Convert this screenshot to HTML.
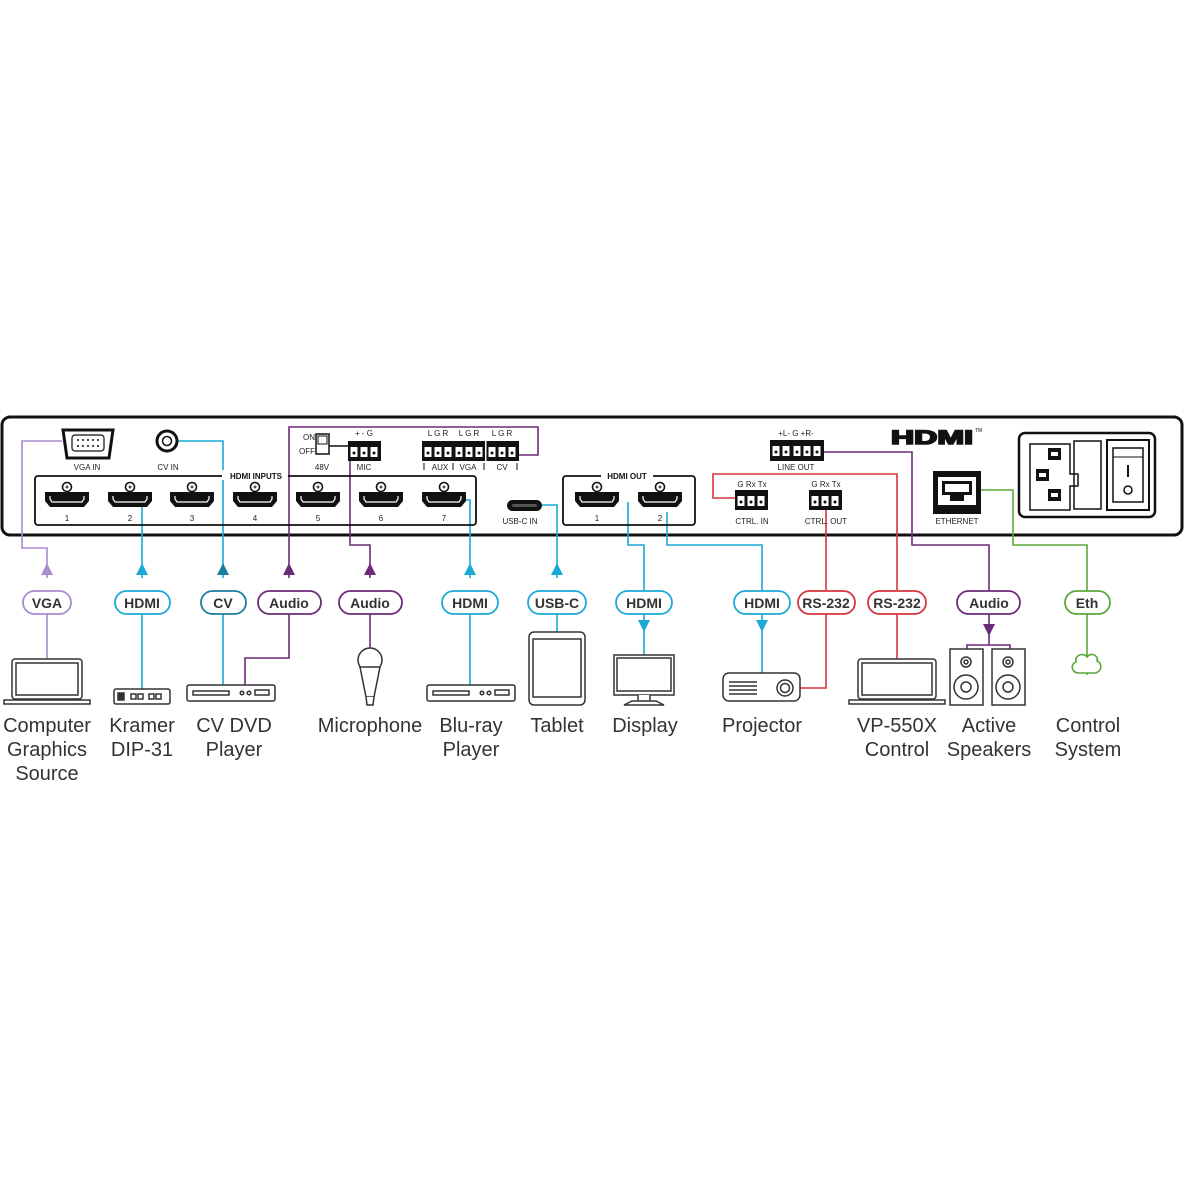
<!DOCTYPE html>
<html><head><meta charset="utf-8"><style>
html,body{margin:0;padding:0;background:#fff;width:1200px;height:1200px;overflow:hidden}
svg{display:block}
.s{font-family:"Liberation Sans",sans-serif;font-size:8px;fill:#222;text-anchor:middle}
.sb{font-family:"Liberation Sans",sans-serif;font-size:8px;font-weight:bold;fill:#111;text-anchor:middle}
.pl{font-family:"Liberation Sans",sans-serif;font-size:14px;font-weight:bold;fill:#333;text-anchor:middle}
.lb{font-family:"Liberation Sans",sans-serif;font-size:20px;fill:#333;text-anchor:middle}
</style></head><body>
<svg width="1200" height="1200" viewBox="0 0 1200 1200" xmlns="http://www.w3.org/2000/svg">
<defs>
<g id="hp">
 <circle cx="0" cy="-12" r="4.5" fill="#fff" stroke="#111" stroke-width="1.6"/>
 <path d="M-1.5,-12h3M0,-13.5v3" stroke="#111" stroke-width="1"/>
 <path d="M-22,-7 h44 v9 l-5,6 h-34 l-5,-6z" fill="#111"/>
 <path d="M-17,-3 v3 l2,3 h30 l2,-3 v-3" fill="none" stroke="#fff" stroke-width="1.2"/>
</g>
<g id="pin"><rect x="-3.5" y="-5" width="7" height="10" fill="#fff"/><circle cx="0" cy="1" r="1.5" fill="#111"/></g>
</defs>
<rect width="1200" height="1200" fill="#fff"/>
<rect x="2" y="417" width="1180" height="118" rx="8" fill="#fff" stroke="#111" stroke-width="3"/>

<g fill="none" stroke-width="1.6">
 <path d="M62,441 H22 V548 H47 V578" stroke="#a98bd0"/>
 <path d="M47,614 V660" stroke="#a98bd0"/>
 <path d="M142,505 V578 M142,614 V690" stroke="#1ba9d6"/>
 <path d="M177,441 H223 V578 M223,614 V690" stroke="#1ba9d6"/>
 <path d="M289,578 V427 H538 V455 H518" stroke="#6e2a7a"/>
 <path d="M289,614 V658 H245 V686" stroke="#6e2a7a"/>
 <path d="M350,460 V545 H370 V578 M370,614 V648" stroke="#6e2a7a"/>
 <path d="M465,500 H470 V578 M470,614 V686" stroke="#1ba9d6"/>
 <path d="M542,505 H557 V578 M557,614 V632" stroke="#1ba9d6"/>
 <path d="M627,503 H628 V545 H644 V590 M644,614 V655" stroke="#1ba9d6"/>
 <path d="M667,512 V545 H762 V590 M762,614 V673" stroke="#1ba9d6"/>
 <path d="M735,498 H713 V474 H897 V590 M897,614 V660" stroke="#d8343f"/>
 <path d="M826,507 V590 M826,614 V688 H800" stroke="#d8343f"/>
 <path d="M823,452 H912 V545 H989 V590 M989,614 V645 M967,650 V645 H1010 V650" stroke="#6e2a7a"/>
 <path d="M981,490 H1013 V545 H1087 V590 M1087,614 V675" stroke="#5aa83c"/>
</g>
<path d="M47,563 l-6,12 h12z" fill="#a98bd0"/>
<path d="M142,563 l-6,12 h12z" fill="#1ba9d6"/>
<path d="M223,563 l-6,12 h12z" fill="#1a7fa0"/>
<path d="M289,563 l-6,12 h12z" fill="#6e2a7a"/>
<path d="M370,563 l-6,12 h12z" fill="#6e2a7a"/>
<path d="M470,563 l-6,12 h12z" fill="#1ba9d6"/>
<path d="M557,563 l-6,12 h12z" fill="#1ba9d6"/>
<path d="M644,632 l-6,-12 h12z" fill="#1ba9d6"/>
<path d="M762,632 l-6,-12 h12z" fill="#1ba9d6"/>
<path d="M989,636 l-6,-12 h12z" fill="#6e2a7a"/>

<g fill="#fff" stroke-width="1.8">
 <rect x="23" y="591" width="48" height="23" rx="11.5" stroke="#a98bd0"/>
 <rect x="115" y="591" width="55" height="23" rx="11.5" stroke="#1ba9d6"/>
 <rect x="201" y="591" width="45" height="23" rx="11.5" stroke="#1a7fa0"/>
 <rect x="258" y="591" width="63" height="23" rx="11.5" stroke="#6e2a7a"/>
 <rect x="339" y="591" width="63" height="23" rx="11.5" stroke="#6e2a7a"/>
 <rect x="442" y="591" width="56" height="23" rx="11.5" stroke="#1ba9d6"/>
 <rect x="528" y="591" width="58" height="23" rx="11.5" stroke="#1ba9d6"/>
 <rect x="616" y="591" width="56" height="23" rx="11.5" stroke="#1ba9d6"/>
 <rect x="734" y="591" width="56" height="23" rx="11.5" stroke="#1ba9d6"/>
 <rect x="798" y="591" width="57" height="23" rx="11.5" stroke="#d8343f"/>
 <rect x="868" y="591" width="58" height="23" rx="11.5" stroke="#d8343f"/>
 <rect x="957" y="591" width="63" height="23" rx="11.5" stroke="#6e2a7a"/>
 <rect x="1065" y="591" width="45" height="23" rx="11.5" stroke="#5aa83c"/>
</g>
<text class="pl" x="47" y="608">VGA</text>
<text class="pl" x="142" y="608">HDMI</text>
<text class="pl" x="223" y="608">CV</text>
<text class="pl" x="289" y="608">Audio</text>
<text class="pl" x="370" y="608">Audio</text>
<text class="pl" x="470" y="608">HDMI</text>
<text class="pl" x="557" y="608">USB-C</text>
<text class="pl" x="644" y="608">HDMI</text>
<text class="pl" x="762" y="608">HDMI</text>
<text class="pl" x="826" y="608">RS-232</text>
<text class="pl" x="897" y="608">RS-232</text>
<text class="pl" x="989" y="608">Audio</text>
<text class="pl" x="1087" y="608">Eth</text>

<path d="M63,430 h50 l-4,28 h-42z" fill="#fff" stroke="#111" stroke-width="3"/>
<rect x="72" y="435" width="32" height="16" rx="3" fill="#fff" stroke="#111" stroke-width="1.2"/>
<g fill="#111"><circle cx="78" cy="440" r="1"/><circle cx="83" cy="440" r="1"/><circle cx="88" cy="440" r="1"/><circle cx="93" cy="440" r="1"/><circle cx="98" cy="440" r="1"/><circle cx="78" cy="446" r="1"/><circle cx="83" cy="446" r="1"/><circle cx="88" cy="446" r="1"/><circle cx="93" cy="446" r="1"/><circle cx="98" cy="446" r="1"/></g>
<text class="s" x="87" y="470">VGA IN</text>
<circle cx="167" cy="441" r="10" fill="#fff" stroke="#111" stroke-width="3"/><circle cx="167" cy="441" r="4.5" fill="#fff" stroke="#111" stroke-width="1.5"/>
<text class="s" x="168" y="470">CV IN</text>

<rect x="35" y="476" width="441" height="49" rx="3" fill="none" stroke="#111" stroke-width="1.8"/>
<rect x="222" y="470" width="66" height="10" fill="#fff"/>
<text class="sb" x="256" y="479">HDMI INPUTS</text>
<use href="#hp" x="67" y="499"/><use href="#hp" x="130" y="499"/><use href="#hp" x="192" y="499"/><use href="#hp" x="255" y="499"/><use href="#hp" x="318" y="499"/><use href="#hp" x="381" y="499"/><use href="#hp" x="444" y="499"/>
<text class="s" x="67" y="521">1</text><text class="s" x="130" y="521">2</text><text class="s" x="192" y="521">3</text><text class="s" x="255" y="521">4</text><text class="s" x="318" y="521">5</text><text class="s" x="381" y="521">6</text><text class="s" x="444" y="521">7</text>

<rect x="316" y="434" width="13" height="20" fill="#fff" stroke="#111" stroke-width="1.5"/><rect x="318" y="436" width="9" height="8" fill="#fff" stroke="#111" stroke-width="1"/>
<text class="s" x="309" y="440">ON</text><text class="s" x="307" y="454">OFF</text>
<path d="M329,446 H348" stroke="#111" stroke-width="1.5"/>
<text class="s" x="322" y="470">48V</text>
<rect x="348" y="441" width="33" height="20" fill="#111"/>
<use href="#pin" x="354" y="452"/><use href="#pin" x="364" y="452"/><use href="#pin" x="374" y="452"/>
<text class="s" x="364" y="436">+  -  G</text>
<text class="s" x="364" y="470">MIC</text>
<rect x="422" y="441" width="97" height="20" fill="#111"/>
<rect x="485" y="441" width="1.5" height="20" fill="#fff"/>
<use href="#pin" x="428" y="452"/><use href="#pin" x="438" y="452"/><use href="#pin" x="448" y="452"/><use href="#pin" x="459" y="452"/><use href="#pin" x="469" y="452"/><use href="#pin" x="479" y="452"/><use href="#pin" x="492" y="452"/><use href="#pin" x="502" y="452"/><use href="#pin" x="512" y="452"/>
<text class="s" x="438" y="436">L G R</text><text class="s" x="469" y="436">L G R</text><text class="s" x="502" y="436">L G R</text>
<text class="s" x="440" y="470">AUX</text><text class="s" x="468" y="470">VGA</text><text class="s" x="502" y="470">CV</text>
<path d="M424,463 v7 M453,463 v7 M484,463 v7 M517,463 v7" stroke="#111" stroke-width="1"/>

<rect x="507" y="500" width="35" height="11" rx="5.5" fill="#111"/><rect x="512" y="504" width="25" height="3" rx="1.5" fill="#555"/>
<text class="s" x="520" y="524">USB-C IN</text>

<rect x="563" y="476" width="132" height="49" rx="3" fill="none" stroke="#111" stroke-width="1.8"/>
<rect x="601" y="470" width="52" height="10" fill="#fff"/>
<text class="sb" x="627" y="479">HDMI OUT</text>
<use href="#hp" x="597" y="499"/><use href="#hp" x="660" y="499"/>
<text class="s" x="597" y="521">1</text><text class="s" x="660" y="521">2</text>

<rect x="770" y="440" width="54" height="21" fill="#111"/>
<use href="#pin" x="776" y="451"/><use href="#pin" x="786" y="451"/><use href="#pin" x="797" y="451"/><use href="#pin" x="807" y="451"/><use href="#pin" x="817" y="451"/>
<text class="s" x="796" y="436">+L-  G  +R-</text>
<text class="s" x="796" y="470">LINE OUT</text>
<rect x="735" y="490" width="33" height="20" fill="#111"/>
<use href="#pin" x="741" y="501"/><use href="#pin" x="751" y="501"/><use href="#pin" x="761" y="501"/>
<text class="s" x="752" y="487">G Rx Tx</text><text class="s" x="752" y="524">CTRL. IN</text>
<rect x="809" y="490" width="33" height="20" fill="#111"/>
<use href="#pin" x="815" y="501"/><use href="#pin" x="825" y="501"/><use href="#pin" x="835" y="501"/>
<text class="s" x="826" y="487">G Rx Tx</text><text class="s" x="826" y="524">CTRL. OUT</text>

<text x="932" y="444" font-family="Liberation Sans,sans-serif" font-size="19" font-weight="bold" fill="#111" stroke="#111" stroke-width="1.6" text-anchor="middle" textLength="82" lengthAdjust="spacingAndGlyphs">HDMI</text>
<text x="975" y="432" font-family="Liberation Sans,sans-serif" font-size="5" fill="#111">TM</text>

<rect x="933" y="471" width="48" height="43" fill="#111"/>
<rect x="938" y="477" width="38" height="28" fill="#fff"/>
<rect x="942" y="481" width="30" height="14" fill="#111"/><rect x="945" y="484" width="24" height="8" fill="#fff"/>
<rect x="950" y="495" width="14" height="6" fill="#111"/>
<text class="s" x="957" y="524">ETHERNET</text>

<rect x="1019" y="433" width="136" height="84" rx="6" fill="#fff" stroke="#111" stroke-width="2.5"/>
<path d="M1030,444 h40 v30 h8 v12 h-8 v24 h-40 z" fill="none" stroke="#111" stroke-width="1.5"/>
<rect x="1074" y="441" width="27" height="68" fill="none" stroke="#111" stroke-width="1.5"/>
<rect x="1048" y="448" width="13" height="12" fill="#111"/><rect x="1051" y="452" width="7" height="4" fill="#fff"/>
<rect x="1036" y="469" width="13" height="12" fill="#111"/><rect x="1039" y="473" width="7" height="4" fill="#fff"/>
<rect x="1048" y="489" width="13" height="12" fill="#111"/><rect x="1051" y="493" width="7" height="4" fill="#fff"/>
<rect x="1107" y="440" width="42" height="70" fill="none" stroke="#111" stroke-width="2"/>
<rect x="1113" y="448" width="30" height="54" fill="none" stroke="#111" stroke-width="1.5"/>
<path d="M1113,457 h30" stroke="#111" stroke-width="1"/>
<path d="M1128,465 v12" stroke="#111" stroke-width="2"/>
<circle cx="1128" cy="490" r="4" fill="none" stroke="#111" stroke-width="1.5"/>

<g fill="#fff" stroke="#333" stroke-width="1.5">
 <rect x="12" y="659" width="70" height="40" rx="3"/><rect x="16" y="663" width="62" height="32"/>
 <path d="M4,700 h86 v4 h-86z"/>
 <rect x="114" y="689" width="56" height="15" rx="2"/>
 <rect x="118" y="693" width="6" height="7" fill="#333"/><rect x="131" y="694" width="5" height="5"/><rect x="138" y="694" width="5" height="5"/><rect x="149" y="694" width="5" height="5"/><rect x="156" y="694" width="5" height="5"/>
 <rect x="187" y="685" width="88" height="16" rx="2"/><rect x="193" y="691" width="36" height="4"/><circle cx="242" cy="693" r="1.8"/><circle cx="249" cy="693" r="1.8"/><rect x="255" y="690" width="14" height="5"/>
 <circle cx="370" cy="660" r="12"/>
 <path d="M360,667 l6,30 h8 l6,-30z"/><path d="M366,697 l1,8 h6 l1,-8"/>
 <rect x="427" y="685" width="88" height="16" rx="2"/><rect x="433" y="691" width="36" height="4"/><circle cx="482" cy="693" r="1.8"/><circle cx="489" cy="693" r="1.8"/><rect x="495" y="690" width="14" height="5"/>
 <rect x="529" y="632" width="56" height="73" rx="5"/><rect x="533" y="639" width="48" height="58"/>
 <rect x="614" y="655" width="60" height="40"/><rect x="617" y="658" width="54" height="33"/>
 <path d="M638,695 v6 h12 v-6 M624,705 l8,-4 h24 l8,4z"/>
 <rect x="723" y="673" width="77" height="28" rx="6"/>
 <path d="M729,682 h28 M729,686 h28 M729,690 h28 M729,694 h28"/>
 <circle cx="785" cy="688" r="8"/><circle cx="785" cy="688" r="4.5"/>
 <rect x="858" y="659" width="78" height="40" rx="3"/><rect x="862" y="663" width="70" height="32"/>
 <path d="M849,700 h96 v4 h-96z"/>
 <rect x="950" y="649" width="33" height="56"/><circle cx="966" cy="662" r="5"/><circle cx="966" cy="662" r="2"/><circle cx="966" cy="687" r="12"/><circle cx="966" cy="687" r="5"/>
 <rect x="992" y="649" width="33" height="56"/><circle cx="1008" cy="662" r="5"/><circle cx="1008" cy="662" r="2"/><circle cx="1008" cy="687" r="12"/><circle cx="1008" cy="687" r="5"/>
</g>
<path d="M1079,673 c-8,0 -9,-9 -3,-11 c-2,-7 8,-10 11,-5 c3,-5 12,-2 10,4 c6,2 5,12 -3,12z" fill="#fff" stroke="#5aa83c" stroke-width="1.6"/>

<text class="lb" x="47" y="732">Computer</text><text class="lb" x="47" y="756">Graphics</text><text class="lb" x="47" y="780">Source</text>
<text class="lb" x="142" y="732">Kramer</text><text class="lb" x="142" y="756">DIP-31</text>
<text class="lb" x="234" y="732">CV DVD</text><text class="lb" x="234" y="756">Player</text>
<text class="lb" x="370" y="732">Microphone</text>
<text class="lb" x="471" y="732">Blu-ray</text><text class="lb" x="471" y="756">Player</text>
<text class="lb" x="557" y="732">Tablet</text>
<text class="lb" x="645" y="732">Display</text>
<text class="lb" x="762" y="732">Projector</text>
<text class="lb" x="897" y="732">VP-550X</text><text class="lb" x="897" y="756">Control</text>
<text class="lb" x="989" y="732">Active</text><text class="lb" x="989" y="756">Speakers</text>
<text class="lb" x="1088" y="732">Control</text><text class="lb" x="1088" y="756">System</text>
</svg>
</body></html>
